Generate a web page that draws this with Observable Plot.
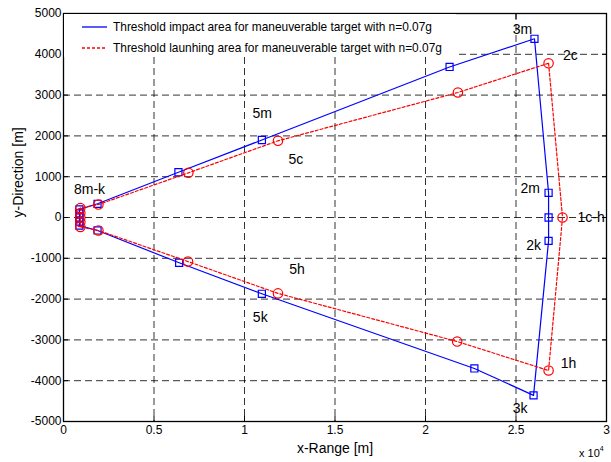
<!DOCTYPE html>
<html><head><meta charset="utf-8">
<script src="https://cdn.jsdelivr.net/npm/d3@7"></script>
<script src="https://cdn.jsdelivr.net/npm/@observablehq/plot@0.6"></script>
<style>
body{margin:0;background:#fff;font-family:"Liberation Sans",Arial,sans-serif;}
#wrap{position:relative;width:611px;height:462px;}
#legend{position:absolute;left:64px;top:14px;width:392px;height:43px;background:#fff;font-size:11.9px;color:#000;}
#legend .row{position:absolute;left:18px;height:14px;display:flex;align-items:center;white-space:nowrap;}
#legend svg{margin-right:6px;}
#exp{position:absolute;left:579px;top:445px;font-size:11px;}
#exp sup{font-size:7px;vertical-align:6px;}
</style></head>
<body>
<div id="wrap"></div>
<script>
const xTicks = [0, 5000, 10000, 15000, 20000, 25000, 30000];
const yTicks = [-5000, -4000, -3000, -2000, -1000, 0, 1000, 2000, 3000, 4000, 5000];
const seriesNames = [
  "Threshold impact area for maneuverable target with n=0.07g",
  "Threshold launhing area for maneuverable target with n=0.07g"
];
// impact area (blue squares), closed polygon
const impactX = [26020, 21330, 10960, 6350, 1880, 880, 880, 880, 880, 880, 1880, 6390, 10960, 22700, 25970, 26800, 26800, 26800];
const impactY = [4380, 3690, 1900, 1110, 336, 200, 100, 0, -100, -200, -318, -1110, -1870, -3700, -4360, -572, 0, 605];
// launching area (red circles), closed polygon
const launchX = [26800, 21790, 11850, 6900, 1930, 930, 930, 930, 930, 930, 1930, 6880, 11850, 21750, 26800, 27570];
const launchY = [3780, 3064, 1880, 1095, 318, 230, 110, 0, -110, -230, -318, -1080, -1860, -3040, -3750, 0];
// point labels
const labelText = ["3m", "2c", "5m", "5c", "8m-k", "2m", "1c-h", "2k", "5h", "5k", "1h", "3k"];
const labelX = [25360, 28000, 10980, 12840, 1440, 25780, 29150, 25970, 12900, 10870, 27900, 25230];
const labelY = [4600, 3970, 2550, 1420, 680, 700, 0, -690, -1280, -2440, -3590, -4690];

const impact = impactX.map((x, i) => ({x, y: impactY[i]}));
const launch = launchX.map((x, i) => ({x, y: launchY[i]}));
const impactClosed = [...impact, impact[0]];
const launchClosed = [...launch, launch[0]];
const labels = labelText.map((t, i) => ({t, x: labelX[i], y: labelY[i]}));

const gridStyle = {stroke: "#000", strokeOpacity: 0.8, strokeDasharray: "7,4", strokeWidth: 1};

const chart = Plot.plot({
  width: 611, height: 462,
  marginLeft: 63, marginRight: 5, marginTop: 13, marginBottom: 41,
  style: {fontFamily: "'Liberation Sans', Arial, sans-serif", fontSize: "12px", background: "#fff", color: "#000"},
  x: {domain: [0, 30000], ticks: xTicks},
  y: {domain: [-5000, 5000], ticks: yTicks},
  marks: [
    Plot.gridX(xTicks, gridStyle),
    Plot.gridY(yTicks, gridStyle),
    Plot.line(impactClosed, {x: "x", y: "y", stroke: "#0000ff", strokeWidth: 1.2}),
    Plot.dot(impact, {x: "x", y: "y", symbol: "square", r: 4, stroke: "#0000ff", fill: "none", strokeWidth: 1.2}),
    Plot.line(launchClosed, {x: "x", y: "y", stroke: "#ff0000", strokeWidth: 1.2, strokeDasharray: "3,2"}),
    Plot.dot(launch, {x: "x", y: "y", r: 4.7, stroke: "#ff0000", fill: "none", strokeWidth: 1.2}),
    Plot.text(labels, {x: "x", y: "y", text: "t", fontSize: 14, fill: "#000"}),
    Plot.frame({stroke: "#000", strokeWidth: 1.3}),
    Plot.axisX(xTicks, {anchor: "bottom", tickSize: -5, tickPadding: 9, tickFormat: d => String(d / 10000), label: null, fontSize: 12}),
    Plot.axisX(xTicks, {anchor: "top", tickSize: -5, tickFormat: () => "", label: null}),
    Plot.axisY(yTicks, {anchor: "left", tickSize: -5, tickPadding: 7, tickFormat: d => String(d), label: null, fontSize: 12}),
    Plot.axisY(yTicks, {anchor: "right", tickSize: -5, tickFormat: () => "", label: null}),
    Plot.text(["x-Range [m]"], {frameAnchor: "bottom", dy: 31, fontSize: 14, fill: "#000"}),
    Plot.text(["y-Direction [m]"], {frameAnchor: "left", dx: -45, rotate: -90, fontSize: 14, fill: "#000"})
  ]
});
const wrap = document.getElementById("wrap");
wrap.appendChild(chart);

// legend
const legend = document.createElement("div");
legend.id = "legend";
legend.innerHTML = `
<div class="row" style="top:6px"><svg width="25" height="4"><line x1="0" x2="25" y1="2" y2="2" stroke="#0000ff" stroke-width="1.3"/></svg>${seriesNames[0]}</div>
<div class="row" style="top:27px"><svg width="25" height="4"><line x1="0" x2="25" y1="2" y2="2" stroke="#ff0000" stroke-width="1.3" stroke-dasharray="3,2"/></svg>${seriesNames[1]}</div>`;
wrap.appendChild(legend);
const exp = document.createElement("div");
exp.id = "exp";
exp.innerHTML = "x 10<sup>4</sup>";
wrap.appendChild(exp);
</script>
</body></html>
